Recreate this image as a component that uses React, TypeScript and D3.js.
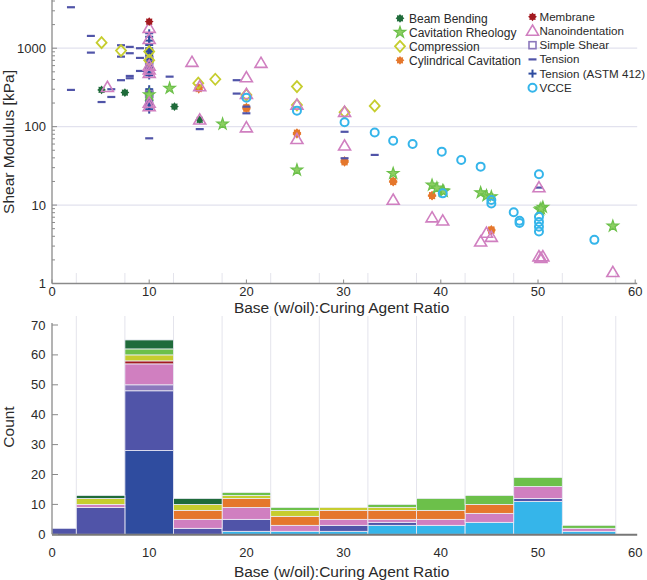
import React from "react";
import * as d3 from "d3";

// ---------- Data ----------
const SERIES_NAMES = [
  "Beam Bending",
  "Cavitation Rheology",
  "Compression",
  "Cylindrical Cavitation",
  "Membrane",
  "Nanoindentation",
  "Simple Shear",
  "Tension",
  "Tension (ASTM 412)",
  "VCCE",
];

// Scatter points [ratio, shear modulus kPa]
const beamBending: [number, number][] = [[5.1, 294], [7.5, 272], [10, 250], [10, 280], [12.6, 180], [15.2, 122]];
const cavitationRheology: [number, number][] = [
  [10, 255], [12.1, 309], [17.55, 108], [25.2, 28], [35.1, 25.4], [39.1, 18], [40.2, 15.3], [40.3, 15.0],
  [39.6, 16.5], [44.1, 14.4], [44.7, 13.2], [45.2, 12.8], [50.2, 8.7], [50.5, 9.4], [50.3, 9.0], [57.7, 5.4],
];
const compression: [number, number][] = [
  [5.1, 1178], [7.1, 933], [10, 905], [10, 700], [15.05, 358], [16.8, 402], [20, 254], [25.2, 324], [25.2, 189],
  [30.1, 153], [33.2, 184],
];
const cylindricalCavitation: [number, number][] = [
  [15.1, 318], [15.1, 310], [15.1, 300], [20, 177], [20, 172], [20, 168], [25.2, 84], [25.2, 82], [25.2, 80],
  [30.1, 36], [30.1, 37], [30.1, 35], [35.1, 20], [35.1, 19.6], [35.1, 20.3], [39.1, 13.2], [39.1, 13.0],
  [39.1, 13.4], [45.2, 4.8], [45.2, 4.7], [45.2, 4.9],
];
const membrane: [number, number][] = [[10, 2185]];
const nanoindentation: [number, number][] = [
  [5.7, 318], [10, 1800], [10, 1300], [10, 595], [10, 530], [10, 480], [10, 180], [10, 200], [14.4, 663],
  [15.2, 324], [15.2, 122], [20, 422], [20, 259], [20, 97], [21.5, 644], [25.2, 189], [25.2, 69], [30.1, 153],
  [30.1, 57], [35.1, 11.6], [39.1, 6.9], [40.2, 6.3], [44.1, 3.4], [44.7, 4.4], [45.2, 3.9], [50.1, 16.7],
  [50.1, 2.2], [50.5, 2.2], [50.3, 2.1], [57.7, 1.39],
];
const simpleShear: [number, number][] = [[10, 700], [10, 260]];
const tension: [number, number][] = [
  [1.95, 3330], [1.95, 294], [4, 1435], [4, 879], [5.1, 206], [6.1, 300], [6.1, 239], [7.1, 1091], [7.1, 781],
  [7.1, 391], [8, 1040], [8, 863], [8, 443], [8, 414], [9.05, 1000], [9.05, 752], [9.05, 513], [10, 71],
  [12.1, 434], [15.2, 93], [19, 391], [19, 264], [20, 148], [20, 180], [30.1, 86], [30.1, 39.5], [33.2, 43.6],
  [50.1, 16.7],
];
const tensionASTM: [number, number][] = [
  1550, 1400, 1250, 1100, 1000, 950, 900, 850, 800, 760, 720, 680, 640, 600, 560, 520, 480, 450, 300, 280, 260,
  240, 220, 210, 200, 190, 175, 165,
].map((v) => [10, v] as [number, number]);
const vcce: [number, number][] = [
  [20, 234], [25.2, 160], [30.1, 114], [33.2, 84], [35.1, 66], [37.1, 60], [40.1, 48], [40.2, 14.1], [42.1, 37.6],
  [44.1, 30.9], [45.2, 11.6], [45.2, 10.5], [47.5, 8.1], [48.1, 6.3], [48.1, 5.9], [50.1, 24.7], [50.1, 7.1],
  [50.1, 6.1], [50.1, 5.3], [50.1, 4.6], [55.8, 3.6],
];

// Histogram bins
const BIN_EDGES = [0, 2.5, 7.5, 12.5, 17.5, 22.5, 27.5, 32.5, 37.5, 42.5, 47.5, 52.5, 58];
const countsVCCE = [0, 0, 0, 0, 1, 1, 1, 3, 3, 4, 11, 1];
const countsTensionASTM = [0, 0, 28, 0, 0, 0, 0, 0, 0, 0, 0, 0];
const countsTension = [2, 9, 20, 2, 4, 0, 2, 1, 0, 0, 1, 0];
const countsSimpleShear = [0, 0, 2, 0, 0, 0, 0, 0, 0, 0, 0, 0];
const countsNano = [0, 1, 7, 3, 4, 2, 2, 1, 2, 3, 4, 1];
const countsMembrane = [0, 0, 1, 0, 0, 0, 0, 0, 0, 0, 0, 0];
const countsCylCav = [0, 0, 0, 3, 3, 3, 3, 3, 3, 3, 0, 0];
const countsCompression = [0, 2, 2, 2, 1, 2, 1, 1, 0, 0, 0, 0];
const countsCavRheo = [0, 0, 2, 0, 1, 1, 0, 1, 4, 3, 3, 1];
const countsBeam = [0, 1, 3, 2, 0, 0, 0, 0, 0, 0, 0, 0];

const X_TICKS = [0, 10, 20, 30, 40, 50, 60];
const Y_LOG_TICKS = [1, 10, 100, 1000];
const Y_COUNT_TICKS = [0, 10, 20, 30, 40, 50, 60, 70];

// ---------- Style ----------
const COLORS: Record<string, string> = {
  "Beam Bending": "#1f6b3a",
  "Cavitation Rheology": "#6cc04a",
  Compression: "#c6cd2e",
  "Cylindrical Cavitation": "#e5772c",
  Membrane: "#a3191f",
  Nanoindentation: "#d07fc0",
  "Simple Shear": "#8c78bc",
  Tension: "#5054a8",
  "Tension (ASTM 412)": "#2f4c9f",
  VCCE: "#35b5ea",
};

const FONT = "'Liberation Sans', Arial, Helvetica, sans-serif";

function blob(ro: number, ri: number, n: number) {
  const pts: string[] = [];
  for (let i = 0; i < n * 2; i++) {
    const r = i % 2 === 0 ? ro : ri;
    const a = (Math.PI * i) / n - Math.PI / 2;
    pts.push(`${(r * Math.cos(a)).toFixed(2)},${(r * Math.sin(a)).toFixed(2)}`);
  }
  return "M" + pts.join("L") + "Z";
}
const starPath = d3.symbol(d3.symbolStar, 40)() as string;

function Marker({ name, x, y }: { name: string; x: number; y: number }) {
  const c = COLORS[name];
  const t = `translate(${x},${y})`;
  switch (name) {
    case "Beam Bending":
    case "Membrane":
    case "Cylindrical Cavitation":
      return <path transform={t} d={blob(4.4, 3.1, 8)} fill={c} stroke="none" />;
    case "Cavitation Rheology":
      return <path transform={t} d={starPath} fill="#8ccf62" stroke={c} strokeWidth={1.2} />;
    case "Compression":
      return <path transform={t} d="M0,-5.5L5,0L0,5.5L-5,0Z" fill="none" stroke={c} strokeWidth={1.8} />;
    case "Nanoindentation":
      return <path transform={t} d="M0,-6L6,4.2L-6,4.2Z" fill="none" stroke={c} strokeWidth={1.6} />;
    case "Simple Shear":
      return <rect x={x - 3.5} y={y - 3.5} width={7} height={7} fill="none" stroke={c} strokeWidth={1.6} />;
    case "Tension":
      return <line x1={x - 4} x2={x + 4} y1={y} y2={y} stroke={c} strokeWidth={2.2} />;
    case "Tension (ASTM 412)":
      return (
        <g stroke={c} strokeWidth={2}>
          <line x1={x - 4} x2={x + 4} y1={y} y2={y} />
          <line x1={x} x2={x} y1={y - 4} y2={y + 4} />
        </g>
      );
    case "VCCE":
      return <circle cx={x} cy={y} r={4} fill="none" stroke={c} strokeWidth={2} />;
  }
  return null;
}

export default function App() {
  const W = 647;
  const H = 580;

  const x = d3.scaleLinear().domain([0, 60]).range([52, 635.2]);
  const yTop = d3.scaleLog().domain([1, 4000]).range([283.5, 1]);
  const yBot = d3.scaleLinear().domain([0, 70]).range([534.3, 325]);

  const scatter: Record<string, [number, number][]> = {
    "Beam Bending": beamBending,
    "Cavitation Rheology": cavitationRheology,
    Compression: compression,
    "Cylindrical Cavitation": cylindricalCavitation,
    Membrane: membrane,
    Nanoindentation: nanoindentation,
    "Simple Shear": simpleShear,
    Tension: tension,
    "Tension (ASTM 412)": tensionASTM,
    VCCE: vcce,
  };
  const drawOrder = [
    "Cylindrical Cavitation",
    "Beam Bending",
    "Tension (ASTM 412)",
    "Tension",
    "Simple Shear",
    "Cavitation Rheology",
    "Compression",
    "Nanoindentation",
    "Membrane",
    "VCCE",
  ];

  const counts: Record<string, number[]> = {
    VCCE: countsVCCE,
    "Tension (ASTM 412)": countsTensionASTM,
    Tension: countsTension,
    "Simple Shear": countsSimpleShear,
    Nanoindentation: countsNano,
    Membrane: countsMembrane,
    "Cylindrical Cavitation": countsCylCav,
    Compression: countsCompression,
    "Cavitation Rheology": countsCavRheo,
    "Beam Bending": countsBeam,
  };
  const stackOrder = [
    "VCCE",
    "Tension (ASTM 412)",
    "Tension",
    "Simple Shear",
    "Nanoindentation",
    "Membrane",
    "Cylindrical Cavitation",
    "Compression",
    "Cavitation Rheology",
    "Beam Bending",
  ];
  const binTable = BIN_EDGES.slice(0, -1).map((lo, i) => {
    const row: Record<string, number> = { lo, hi: BIN_EDGES[i + 1] };
    stackOrder.forEach((k) => (row[k] = counts[k][i]));
    return row;
  });
  const stacked = d3.stack<Record<string, number>>().keys(stackOrder)(binTable);

  // minor log ticks
  const minor: number[] = [];
  for (let d = 1; d < 4000; d *= 10) for (let m = 2; m <= 9; m++) if (d * m <= 4000) minor.push(d * m);

  const axisGray = "#8a8a8a";
  const gridColor = "#e2e2ee";
  const textColor = "#2a2a2a";

  const legendCol1 = SERIES_NAMES.slice(0, 4);
  const legendCol2 = SERIES_NAMES.slice(4);

  return (
    <svg width={W} height={H} style={{ position: "absolute", left: 0, top: 0, background: "#fff" }} fontFamily={FONT}>
      {/* ---------- TOP SCATTER ---------- */}
      {Y_LOG_TICKS.slice(1).map((t) => (
        <line key={"g" + t} x1={x(0)} x2={x(60) + 2} y1={yTop(t)} y2={yTop(t)} stroke={gridColor} strokeWidth={1.2} />
      ))}
      {BIN_EDGES.slice(1).map((e) => (
        <line key={"sg" + e} x1={x(e)} x2={x(e)} y1={273} y2={284} stroke="#e4e4ec" strokeWidth={1} />
      ))}
      {/* axes */}
      <line x1={x(0)} x2={x(0)} y1={0} y2={yTop(1)} stroke={axisGray} strokeWidth={1.3} />
      <line x1={x(0)} x2={x(60) + 2} y1={yTop(1)} y2={yTop(1)} stroke={axisGray} strokeWidth={1.5} />
      {minor.map((t) => (
        <line key={"m" + t} x1={x(0)} x2={x(0) + 3} y1={yTop(t)} y2={yTop(t)} stroke={axisGray} strokeWidth={1} />
      ))}
      {Y_LOG_TICKS.map((t) => (
        <g key={"yt" + t}>
          <line x1={x(0)} x2={x(0) + 5} y1={yTop(t)} y2={yTop(t)} stroke={axisGray} strokeWidth={1} />
          <text x={46} y={yTop(t)} dy="0.35em" textAnchor="end" fontSize={13} fill={textColor}>
            {t}
          </text>
        </g>
      ))}
      {X_TICKS.map((t) => (
        <g key={"xt" + t}>
          <line x1={x(t)} x2={x(t)} y1={yTop(1)} y2={yTop(1) - 4} stroke={axisGray} strokeWidth={1} />
          <text x={x(t)} y={291.5} dy="0.35em" textAnchor="middle" fontSize={13} fill={textColor}>
            {t}
          </text>
        </g>
      ))}
      <text x={x(30) - 2} y={313} textAnchor="middle" fontSize={15.5} fill={textColor}>
        Base (w/oil):Curing Agent Ratio
      </text>
      <text transform={`translate(9,142) rotate(-90)`} dy="0.35em" textAnchor="middle" fontSize={15.5} fill={textColor}>
        Shear Modulus [kPa]
      </text>

      {/* markers */}
      {drawOrder.map((name) => (
        <g key={"s" + name}>
          {scatter[name].map(([vx, vy], i) => (
            <Marker key={i} name={name} x={x(vx)} y={yTop(vy)} />
          ))}
        </g>
      ))}

      {/* legend */}
      {legendCol1.map((n, i) => (
        <g key={"l1" + n}>
          <Marker name={n} x={400} y={18.3 + i * 14} />
          <text x={409} y={18.3 + i * 14} dy="0.35em" fontSize={12} fill={textColor}>
            {n}
          </text>
        </g>
      ))}
      {legendCol2.map((n, i) => (
        <g key={"l2" + n}>
          <Marker name={n} x={532.5} y={16.8 + i * 14.2} />
          <text x={539.5} y={16.8 + i * 14.2} dy="0.35em" fontSize={11.6} fill={textColor}>
            {n}
          </text>
        </g>
      ))}

      {/* ---------- BOTTOM HISTOGRAM ---------- */}
      {BIN_EDGES.slice(1).map((e) => (
        <line key={"hg" + e} x1={x(e)} x2={x(e)} y1={316} y2={yBot(0)} stroke="#e4e4ec" strokeWidth={1} />
      ))}
      {stacked.map((layer) => (
        <g key={"h" + layer.key} fill={COLORS[layer.key]}>
          {layer.map((d, i) =>
            d[1] > d[0] ? (
              <rect
                key={i}
                x={x(d.data.lo)}
                width={x(d.data.hi) - x(d.data.lo)}
                y={yBot(d[1])}
                height={yBot(d[0]) - yBot(d[1])}
                stroke="#ececf6"
                strokeWidth={0.8}
              />
            ) : null
          )}
        </g>
      ))}
      <line x1={x(0)} x2={x(0)} y1={323} y2={yBot(0)} stroke={axisGray} strokeWidth={1.3} />
      <line x1={x(0)} x2={x(60) + 2} y1={yBot(0) + 0.5} y2={yBot(0) + 0.5} stroke="#777" strokeWidth={2} />
      {Y_COUNT_TICKS.map((t) => (
        <g key={"ct" + t}>
          <line x1={x(0)} x2={x(0) + 6} y1={yBot(t)} y2={yBot(t)} stroke={axisGray} strokeWidth={1} />
          <text x={45.5} y={yBot(t)} dy="0.35em" textAnchor="end" fontSize={13} fill={textColor}>
            {t}
          </text>
        </g>
      ))}
      {X_TICKS.map((t) => (
        <text key={"bx" + t} x={x(t)} y={552.7} dy="0.35em" textAnchor="middle" fontSize={13} fill={textColor}>
          {t}
        </text>
      ))}
      <text x={x(30) - 2} y={577} textAnchor="middle" fontSize={15.5} fill={textColor}>
        Base (w/oil):Curing Agent Ratio
      </text>
      <text transform={`translate(9,427) rotate(-90)`} dy="0.35em" textAnchor="middle" fontSize={15.5} fill={textColor}>
        Count
      </text>
    </svg>
  );
}
